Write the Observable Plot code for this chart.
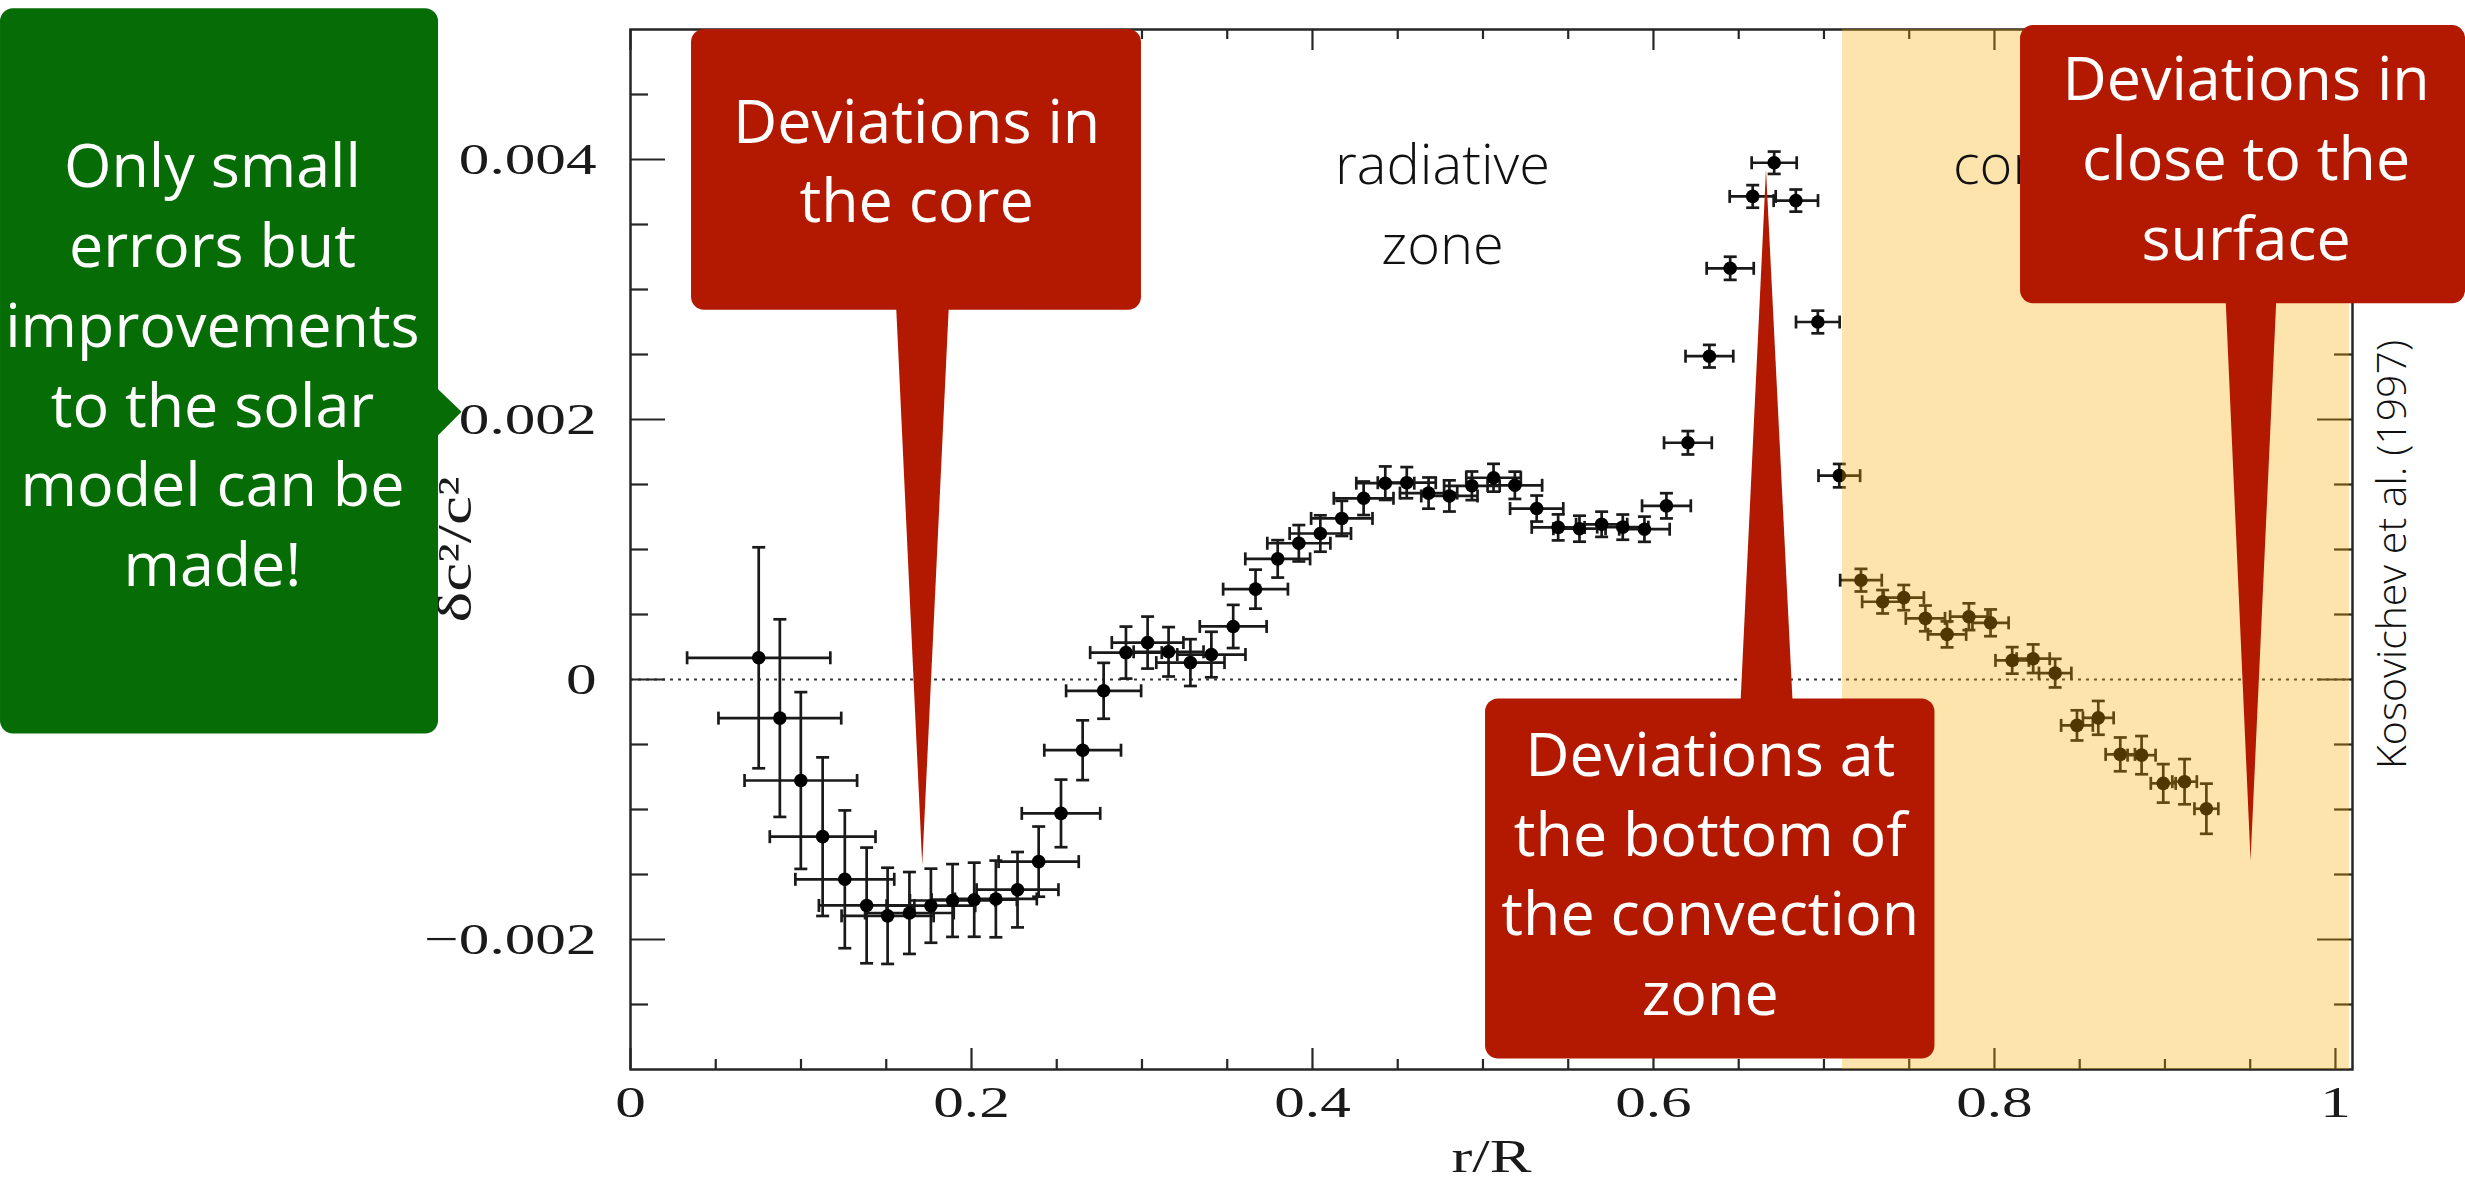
<!DOCTYPE html>
<html>
<head>
<meta charset="utf-8">
<script src="https://cdn.jsdelivr.net/npm/d3@7"></script>
<script src="https://cdn.jsdelivr.net/npm/@observablehq/plot@0.6"></script>
<style>
  html, body { margin: 0; padding: 0; background: #fff; }
  #chart svg { display: block; overflow: visible; }
</style>
</head>
<body>
<div id="chart"></div>
<script>
// ---- Data ----
// fractional radius r/R
const radius = [0.0752,0.0876,0.0999,0.1127,0.1257,0.1385,0.1508,0.1636,0.1762,0.1889,
  0.2016,0.2143,0.2270,0.2394,0.2525,0.2652,0.2775,0.2906,0.3033,0.3156,
  0.3284,0.3407,0.3535,0.3666,0.3796,0.3920,0.4046,0.4172,0.4300,0.4427,
  0.4553,0.4681,0.4803,0.4935,0.5062,0.5187,0.5315,0.5441,0.5566,0.5696,
  0.5820,0.5947,0.6076,0.6202,0.6328,0.6450,0.6582,0.6708,0.6835,0.6964,
  0.7090,0.7217,0.7344,0.7468,0.7595,0.7722,0.7850,0.7977,0.8104,0.8227,
  0.8356,0.8484,0.8609,0.8738,0.8863,0.8990,0.9115,0.9243];
// delta c^2 / c^2 in units of 1e-3
const dcE3 = [0.167,-0.297,-0.777,-1.209,-1.537,-1.738,-1.818,-1.796,-1.740,-1.700,
  -1.694,-1.688,-1.617,-1.401,-1.030,-0.544,-0.087,0.207,0.284,0.213,
  0.130,0.192,0.408,0.695,0.928,1.048,1.123,1.239,1.394,1.510,
  1.514,1.434,1.412,1.490,1.552,1.494,1.315,1.170,1.160,1.194,
  1.172,1.156,1.336,1.821,2.487,3.163,3.716,3.975,3.684,2.750,
  1.568,0.764,0.598,0.630,0.470,0.347,0.483,0.436,0.147,0.160,
  0.049,-0.353,-0.295,-0.576,-0.582,-0.799,-0.786,-0.994];
// half-width of the horizontal error bar (r/R)
const radiusErr = [0.042,0.036,0.033,0.031,0.029,0.028,0.027,0.026,0.026,0.025,
  0.025,0.024,0.024,0.0235,0.023,0.0225,0.022,0.021,0.021,0.0205,
  0.020,0.020,0.0196,0.019,0.019,0.0185,0.018,0.018,0.0175,0.017,
  0.017,0.0168,0.0165,0.0163,0.016,0.016,0.0156,0.0155,0.0153,0.015,
  0.015,0.0148,0.0143,0.014,0.014,0.0138,0.0135,0.0132,0.013,0.0128,
  0.0122,0.0122,0.012,0.0118,0.0115,0.0112,0.011,0.0106,0.0098,0.0097,
  0.0095,0.0093,0.009,0.0086,0.0082,0.0073,0.0072,0.007];
// half-height of the vertical error bar, units of 1e-4
const dcErrE4 = [8.5,7.6,6.8,6.1,5.3,4.45,3.7,3.15,2.85,2.8,
  2.85,2.95,2.9,2.7,2.6,2.3,2.15,2.0,2.0,1.9,
  1.8,1.75,1.66,1.5,1.44,1.4,1.4,1.35,1.29,1.29,
  1.2,1.2,1.2,1.1,1.07,1.05,1.0,1.0,1.0,0.97,
  0.97,0.97,0.97,0.9,0.87,0.89,0.87,0.86,0.85,0.87,
  0.9,0.87,0.9,0.97,0.99,1.0,1.03,1.03,1.02,1.1,
  1.1,1.16,1.3,1.3,1.47,1.48,1.74,1.93];

const xMajor = [0, 0.2, 0.4, 0.6, 0.8, 1];
const xMajorLabels = ["0", "0.2", "0.4", "0.6", "0.8", "1"];
const xMinor = [0.05,0.1,0.15,0.25,0.3,0.35,0.45,0.5,0.55,0.65,0.7,0.75,0.85,0.9,0.95];
const yMajor = [-0.002, 0, 0.002, 0.004];
const yMajorLabels = ["\u22120.002", "0", "0.002", "0.004"];
const yMinor = [-0.0025,-0.0015,-0.001,-0.0005,0.0005,0.001,0.0015,0.0025,0.003,0.0035,0.0045];

const xLabel = "r/R";
const yLabel = "\u03B4c\u00B2/c\u00B2";
const credit = "Kosovichev et al. (1997)";

// zones (in r/R)
const convectionZone = [{x1: 0.7109, x2: 1.0082}];
const zoneLabelLines = [
  {x: 0.4763, y: 0.00381, text: "radiative"},
  {x: 0.4763, y: 0.00320, text: "zone"},
  {x: 0.8557, y: 0.00381, text: "convection"},
  {x: 0.8557, y: 0.00320, text: "zone"}
];

// callouts (in data coordinates of the chart)
const calloutBoxes = [
  {id: "green", x1: -0.3695, x2: -0.1126, y1: -0.00042, y2: 0.00516, color: "#066c06"},
  {id: "core", x1: 0.0358, x2: 0.2997, y1: 0.00284, y2: 0.00500, color: "#b21900"},
  {id: "base", x1: 0.5015, x2: 0.7651, y1: -0.00292, y2: -0.00015, color: "#b21900"},
  {id: "surface", x1: 0.8153, x2: 1.0763, y1: 0.00289, y2: 0.00503, color: "#b21900"}
];
const calloutPointers = [
  {id: "green", pts: [[-0.1150, 0.00226], [-0.0991, 0.00206], [-0.1150, 0.00185]], color: "#066c06"},
  {id: "core", pts: [[0.1557, 0.00290], [0.1711, -0.001426], [0.1868, 0.00290]], color: "#b21900"},
  {id: "base", pts: [[0.6508, -0.00025], [0.6660, 0.003923], [0.6819, -0.00025]], color: "#b21900"},
  {id: "surface", pts: [[0.9355, 0.00295], [0.9502, -0.001392], [0.9654, 0.00295]], color: "#b21900"}
];
const calloutTexts = [
  {x: -0.2452, y: 0.00245, text: "Only small\nerrors but\nimprovements\nto the solar\nmodel can be\nmade!"},
  {x: 0.1678, y: 0.00402, text: "Deviations in\nthe core"},
  {x: 0.6333, y: -0.001465, text: "Deviations at\nthe bottom of\nthe convection\nzone"},
  {x: 0.9476, y: 0.00404, text: "Deviations in\nclose to the\nsurface"}
];

// ---- Build table ----
const points = radius.map((r, i) => ({
  r, dc: dcE3[i] * 1e-3, re: radiusErr[i], de: dcErrE4[i] * 1e-4
}));
const pointerRows = calloutPointers.flatMap(p => p.pts.map(([x, y]) => ({id: p.id, x, y, color: p.color})));

// custom cap symbols (half-length = r)
const vbar = {draw(ctx, size) { const h = Math.sqrt(size / Math.PI); ctx.moveTo(0, -h); ctx.lineTo(0, h); }};
const hbar = {draw(ctx, size) { const h = Math.sqrt(size / Math.PI); ctx.moveTo(-h, 0); ctx.lineTo(h, 0); }};

const W = 2465, H = 1178;
const mL = 630, mR = 113, mT = 29, mB = 109;
const innerW = W - mL - mR, innerH = H - mT - mB;

const ink = "#1a1a1a";
const barW = 2.7;
const serif = "Liberation Serif";
const sans = "Open Sans";

const chart = Plot.plot({
  width: W, height: H,
  marginLeft: mL, marginRight: mR, marginTop: mT, marginBottom: mB,
  style: {background: "#fff", overflow: "visible"},
  x: {domain: [0, 1.01], axis: null},
  y: {domain: [-0.003, 0.005], axis: null},
  marks: [
    Plot.ruleY([0], {stroke: "#333", strokeWidth: 2, strokeDasharray: "3,5"}),
    // error bars
    Plot.ruleY(points, {y: "dc", x1: d => d.r - d.re, x2: d => d.r + d.re, stroke: ink, strokeWidth: barW}),
    Plot.ruleX(points, {x: "r", y1: d => d.dc - d.de, y2: d => d.dc + d.de, stroke: ink, strokeWidth: barW}),
    Plot.dot(points, {x: d => d.r - d.re, y: "dc", symbol: vbar, r: 6.5, fill: "none", stroke: ink, strokeWidth: barW}),
    Plot.dot(points, {x: d => d.r + d.re, y: "dc", symbol: vbar, r: 6.5, fill: "none", stroke: ink, strokeWidth: barW}),
    Plot.dot(points, {x: "r", y: d => d.dc - d.de, symbol: hbar, r: 6.5, fill: "none", stroke: ink, strokeWidth: barW}),
    Plot.dot(points, {x: "r", y: d => d.dc + d.de, symbol: hbar, r: 6.5, fill: "none", stroke: ink, strokeWidth: barW}),
    Plot.dot(points, {x: "r", y: "dc", r: 6.8, fill: "#000", stroke: "none"}),
    // frame and inward ticks
    Plot.frame({stroke: "#262626", strokeWidth: 2.5}),
    Plot.tickX(xMajor, {x: d => d, insetTop: innerH - 21, stroke: "#262626", strokeWidth: 2.2}),
    Plot.tickX(xMinor, {x: d => d, insetTop: innerH - 10, stroke: "#262626", strokeWidth: 2.2}),
    Plot.tickX(xMajor, {x: d => d, insetBottom: innerH - 21, stroke: "#262626", strokeWidth: 2.2}),
    Plot.tickX(xMinor, {x: d => d, insetBottom: innerH - 10, stroke: "#262626", strokeWidth: 2.2}),
    Plot.tickY(yMajor, {y: d => d, insetRight: innerW - 35, stroke: "#262626", strokeWidth: 2.2}),
    Plot.tickY(yMinor, {y: d => d, insetRight: innerW - 18, stroke: "#262626", strokeWidth: 2.2}),
    Plot.tickY(yMajor, {y: d => d, insetLeft: innerW - 35, stroke: "#262626", strokeWidth: 2.2}),
    Plot.tickY(yMinor, {y: d => d, insetLeft: innerW - 18, stroke: "#262626", strokeWidth: 2.2}),
    // convection zone shading (over the data, like a translucent overlay)
    Plot.rect(convectionZone, {x1: "x1", x2: "x2", y1: -0.003, y2: 0.005, fill: "rgb(250,170,0)", fillOpacity: 0.32}),
    // tick labels and axis labels
    Plot.text(xMajor, {x: d => d, text: (d, i) => xMajorLabels[i], frameAnchor: "bottom", lineAnchor: "middle", dy: 33,
      fontFamily: serif, fontSize: 45, fill: ink}),
    Plot.text(yMajor, {y: d => d, text: (d, i) => yMajorLabels[i], frameAnchor: "left", lineAnchor: "middle", dx: -34, textAnchor: "end",
      fontFamily: serif, fontSize: 45, fill: ink}),
    Plot.text([xLabel], {text: d => d, frameAnchor: "bottom", lineAnchor: "middle", textAnchor: "middle", dy: 88,
      fontFamily: serif, fontSize: 46, fill: ink}),
    Plot.text([yLabel], {text: d => d, frameAnchor: "left", lineAnchor: "middle", textAnchor: "middle", dx: -175, rotate: -90,
      fontFamily: serif, fontSize: 48, fill: ink}),
    // zone labels and credit
    Plot.text(zoneLabelLines, {x: "x", y: "y", text: "text", lineAnchor: "bottom",
      fontFamily: sans, fontWeight: 300, fontSize: 56, fill: "#111"}),
    Plot.text([credit], {text: d => d, x: 1.0335, y: 0.000962, rotate: -90, lineAnchor: "middle",
      fontFamily: sans, fontWeight: 300, fontSize: 41, fill: "#111"}),
    // callouts
    Plot.rect(calloutBoxes, {x1: "x1", x2: "x2", y1: "y1", y2: "y2", fill: "color", rx: 13}),
    Plot.line(pointerRows, {x: "x", y: "y", z: "id", fill: "color", stroke: "none", curve: "linear"}),
    Plot.text(calloutTexts, {x: "x", y: "y", text: "text", lineAnchor: "middle", lineHeight: 1.31,
      fontFamily: sans, fontSize: 61, fill: "#fff"})
  ]
});

// horizontally stretch the serif (TeX-like) labels, as in the original figure
d3.select(chart).selectAll("g").filter(function () {
  const f = this.getAttribute("font-family");
  return f && f.indexOf(serif) >= 0;
}).selectAll("text").each(function () {
  const t = this.getAttribute("transform");
  if (t) {
    this.setAttribute("transform", t + " scale(1.36,1)");
  } else {
    const x = +(this.getAttribute("x") || 0), y = +(this.getAttribute("y") || 0);
    this.removeAttribute("x"); this.removeAttribute("y");
    this.setAttribute("transform", `translate(${x},${y}) scale(1.36,1)`);
  }
});

document.getElementById("chart").appendChild(chart);
</script>
</body>
</html>
